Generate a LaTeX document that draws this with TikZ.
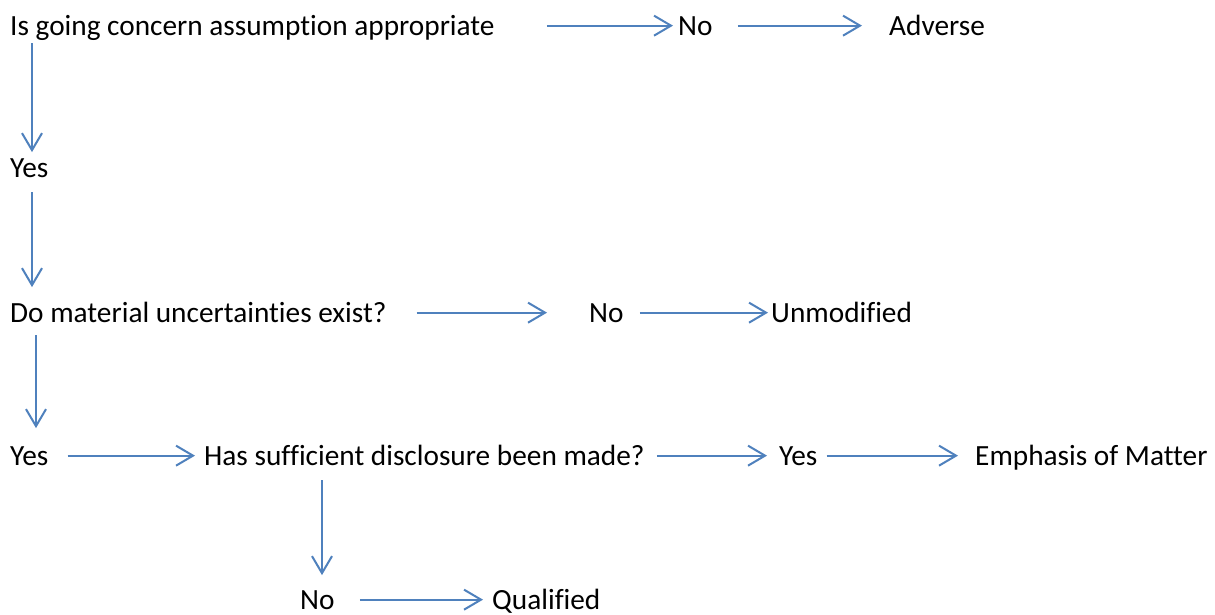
\documentclass[tikz,border=0pt]{standalone}
\usepackage{fontspec}
\setmainfont{Carlito}[Ligatures=NoCommon, Contextuals=NoAlternate]
\usetikzlibrary{arrows.meta,calc}
\definecolor{arrowblue}{RGB}{79,129,189}
\begin{document}
\begin{tikzpicture}[x=1pt,y=-1pt,
  lbl/.style={anchor=base west, inner sep=0pt, text height=18.7pt, text depth=0pt,
    font=\fontsize{29.3}{35}\selectfont},
  arr/.style={draw=arrowblue, line width=2pt,
    -{Straight Barb[length=17pt,width=20pt]}}]
\useasboundingbox (0,0) rectangle (1215,614);
\fill[white] (0,0) rectangle (1215,614);

\node[lbl] (q1)   at (10,35)   {Is going concern assumption appropriate};
\node[lbl] (no1)  at (678,35)  {No};
\node[lbl] (adv)  at (889,35)  {Adverse};
\node[lbl] (yes1) at (10,177)  {Yes};
\node[lbl] (q2)   at (10,322)  {Do material uncertainties exist?};
\node[lbl] (no2)  at (589,322) {No};
\node[lbl] (unm)  at (771,322) {Unmodified};
\node[lbl] (yes2) at (10,465)  {Yes};
\node[lbl] (has)  at (204,465) {Has sufficient disclosure been made?};
\node[lbl] (yes3) at (779,465) {Yes};
\node[lbl] (emph) at (975,465) {Emphasis of Matter};
\node[lbl] (no3)  at (300,609) {No};
\node[lbl] (qual) at (492,609) {Qualified};

% horizontal connectors
\draw[arr] ($(q1.east)+(52,0)$)   -- ($(no1.west)+(-5,0)$);
\draw[arr] ($(no1.east)+(25,0)$)  -- ($(adv.west)+(-27,0)$);
\draw[arr] ($(q2.east)+(30,0)$)   -- ($(no2.west)+(-42,0)$);
\draw[arr] ($(no2.east)+(16,0)$)  -- ($(unm.west)+(-3,0)$);
\draw[arr] ($(yes2.east)+(19,0)$) -- ($(has.west)+(-9,0)$);
\draw[arr] ($(has.east)+(12,0)$)  -- ($(yes3.west)+(-12,0)$);
\draw[arr] ($(yes3.east)+(9,0)$)  -- ($(emph.west)+(-17,0)$);
\draw[arr] ($(no3.east)+(25,0)$)  -- ($(qual.west)+(-9,0)$);

% vertical connectors
\draw[arr] ($(q1.south west)+(22,8)$)    -- ($(yes1.north west)+(22,-6)$);
\draw[arr] ($(yes1.south west)+(22,15)$) -- ($(q2.north west)+(22,-16)$);
\draw[arr] ($(q2.south west)+(26,13)$)   -- ($(yes2.north west)+(26,-18)$);
\draw[arr] ($(has.south west)+(118,15)$) -- ($(no3.north west)+(22,-15)$);
\end{tikzpicture}
\end{document}
